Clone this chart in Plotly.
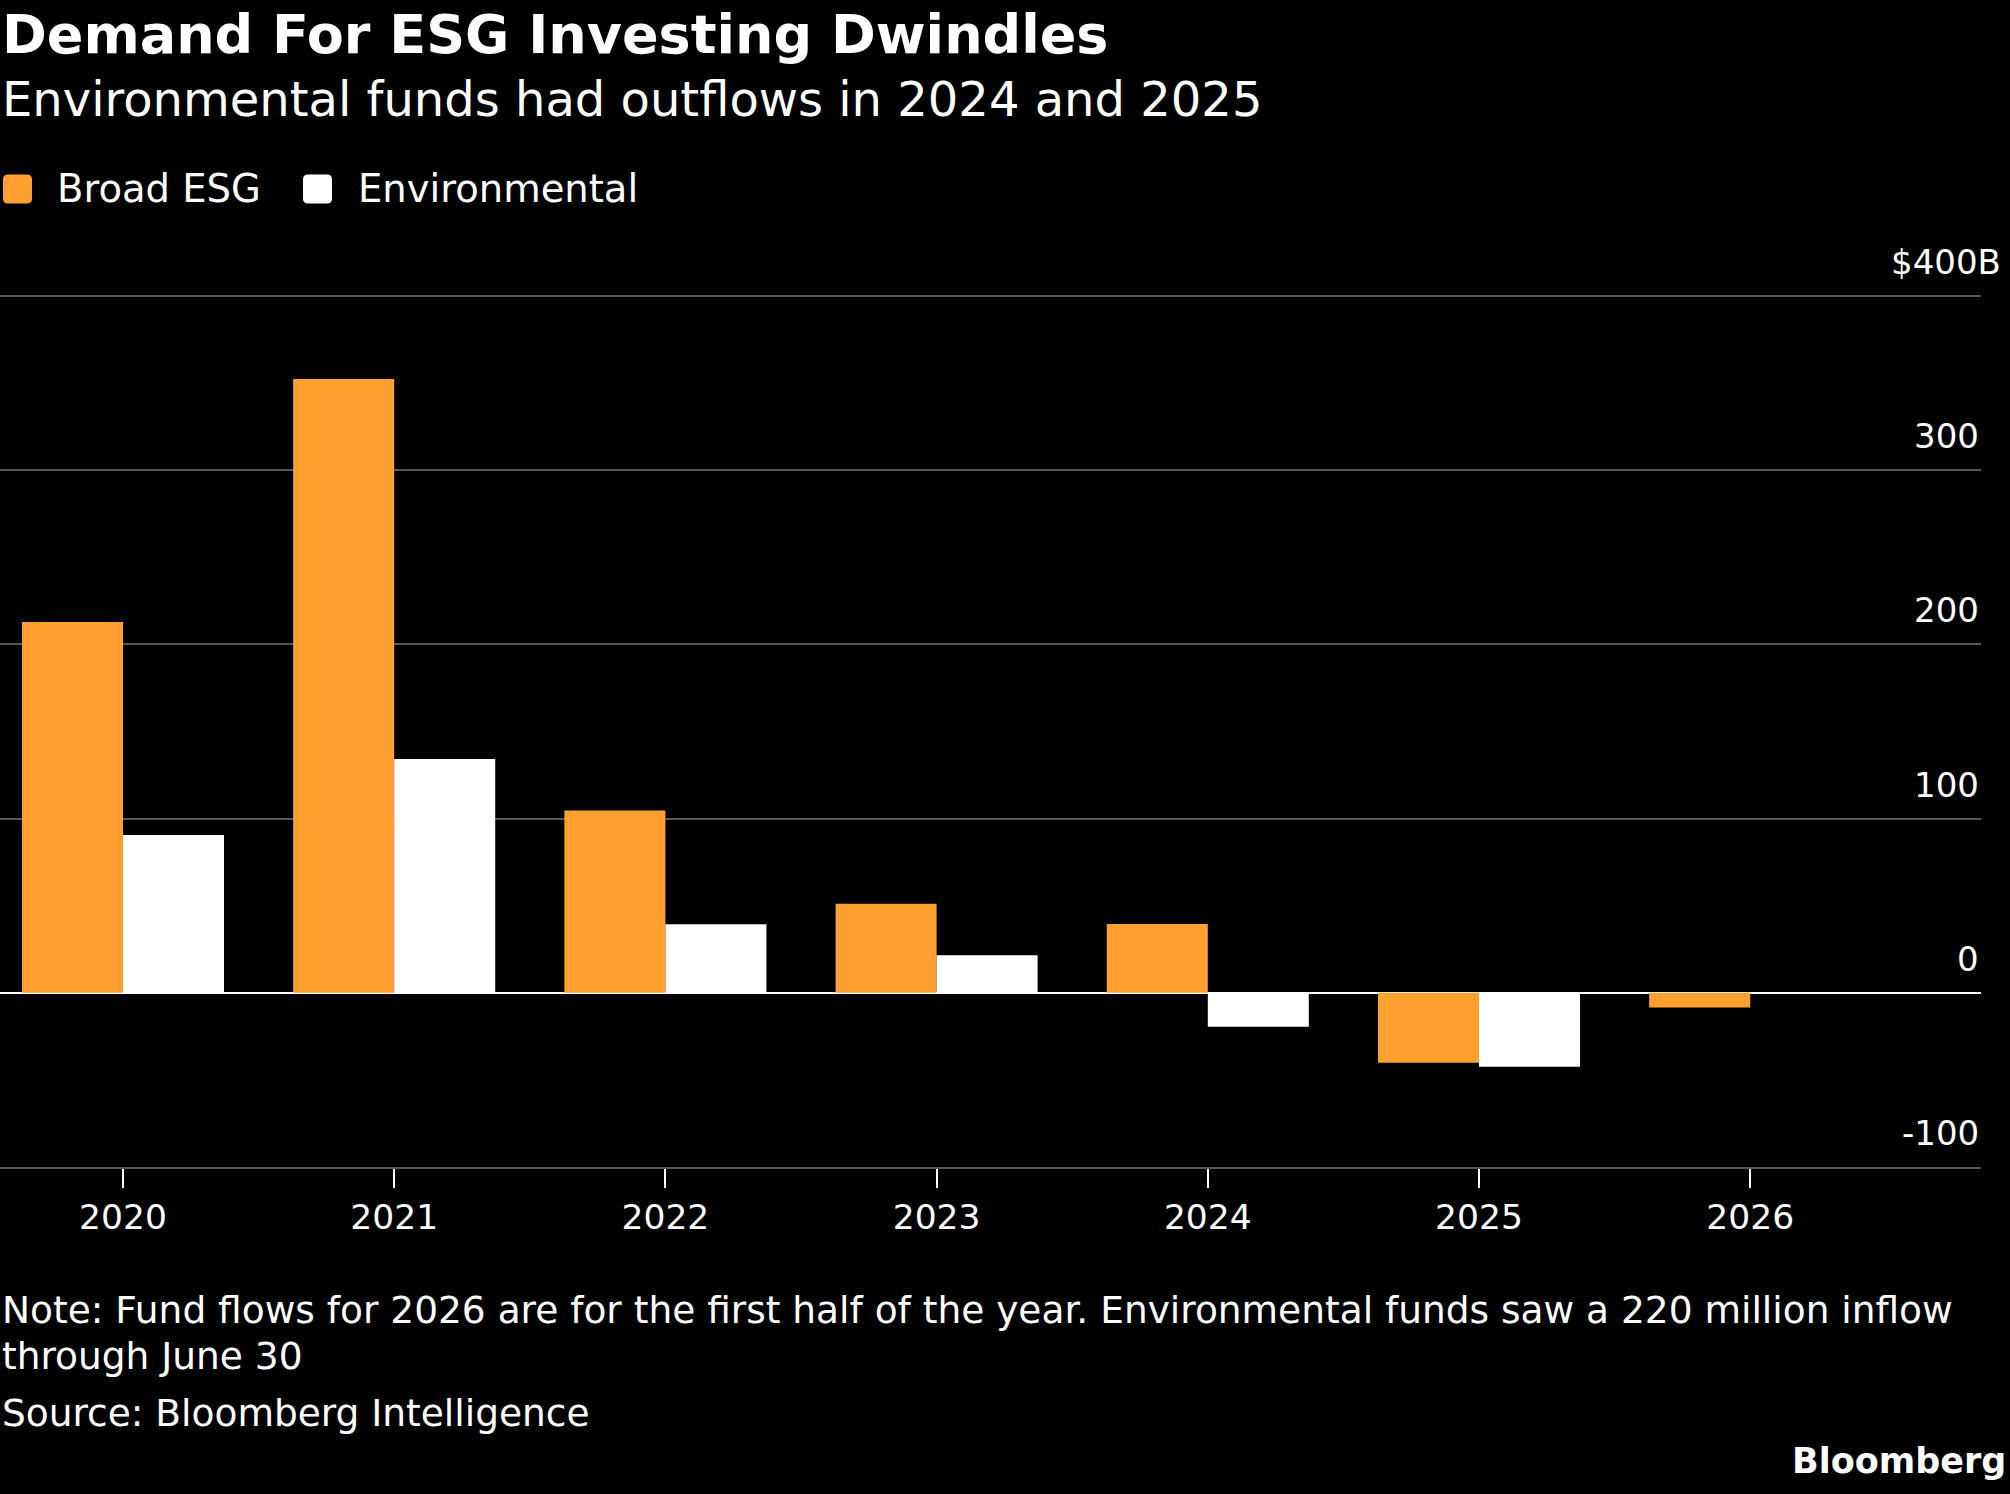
import plotly.graph_objects as go

# values in $B
years = ["2020", "2021", "2022", "2023", "2024", "2025", "2026"]
broad_esg = [212.7, 352.2, 104.6, 51.1, 39.5, -40.2, -8.4]
environmental = [90.5, 134.1, 39.3, 21.5, -19.5, -42.4, 0.22]
y_ticks = [-100, 0, 100, 200, 300, 400]
y_tick_text = ["-100", "0", "100", "200", "300", "$400B"]

W, H = 2010, 1494
PLOT_L, PLOT_R, PLOT_T, PLOT_B = 0, 1981, 294, 1167
ORANGE = "#ffa031"
GRID = "#575757"
FONT = "DejaVu Sans, Verdana, sans-serif"


def px(x):
    return (x - PLOT_L) / (PLOT_R - PLOT_L)


def py(y):
    return (PLOT_B - y) / (PLOT_B - PLOT_T)


fig = go.Figure()
fig.add_trace(go.Bar(x=years, y=broad_esg, name="Broad ESG",
                     marker=dict(color=ORANGE, line=dict(width=0))))
fig.add_trace(go.Bar(x=years, y=environmental, name="Environmental",
                     marker=dict(color="white", line=dict(width=0))))

ann = []
# title / subtitle
ann.append(dict(text="<b>Demand For ESG Investing Dwindles</b>", x=px(0), y=py(35),
                font=dict(family=FONT, size=54, color="white")))
ann.append(dict(text="Environmental funds had outflows in 2024 and 2025", x=px(0), y=py(99),
                font=dict(family=FONT, size=48, color="white")))
# legend
ann.append(dict(text="Broad ESG", x=px(55), y=py(188), font=dict(family=FONT, size=38.5, color="white")))
ann.append(dict(text="Environmental", x=px(356), y=py(188), font=dict(family=FONT, size=38.5, color="white")))

# y tick labels sit above the gridlines
for v, t in zip(y_ticks, y_tick_text):
    ann.append(dict(text=t, x=1, xref="paper", y=v, yref="y", xanchor="right", yanchor="middle",
                    yshift=34, xshift=22 if t.startswith("$") else 0,
                    font=dict(family=FONT, size=34, color="white")))

# footnotes
note = "Note: Fund flows for 2026 are for the first half of the year. Environmental funds saw a 220 million inflow"
ann.append(dict(text=note, x=px(0), y=py(1310), font=dict(family=FONT, size=37.5, color="white")))
ann.append(dict(text="through June 30", x=px(0), y=py(1356), font=dict(family=FONT, size=37.5, color="white")))
ann.append(dict(text="Source: Bloomberg Intelligence", x=px(0), y=py(1413), font=dict(family=FONT, size=37.5, color="white")))
ann.append(dict(text="<b>Bloomberg</b>", x=px(2008), y=py(1461), xanchor="right",
                font=dict(family=FONT, size=35, color="white")))

for a in ann:
    a.setdefault("xref", "paper")
    a.setdefault("yref", "paper")
    a.setdefault("xanchor", "left")
    a.setdefault("yanchor", "middle")
    a["showarrow"] = False


def swatch_paper(x0, yc, size, color):
    # rounded square legend swatch, pixel geometry converted into paper units
    sx = 1 / (PLOT_R - PLOT_L)
    sy = 1 / (PLOT_B - PLOT_T)
    r = 5
    X = lambda v: (v - PLOT_L) * sx
    Y = lambda v: (PLOT_B - v) * sy
    xa, xb = x0, x0 + size
    ya, yb = yc - size / 2, yc + size / 2
    path = (f"M{X(xa + r)},{Y(ya)} L{X(xb - r)},{Y(ya)} Q{X(xb)},{Y(ya)} {X(xb)},{Y(ya + r)} "
            f"L{X(xb)},{Y(yb - r)} Q{X(xb)},{Y(yb)} {X(xb - r)},{Y(yb)} L{X(xa + r)},{Y(yb)} "
            f"Q{X(xa)},{Y(yb)} {X(xa)},{Y(yb - r)} L{X(xa)},{Y(ya + r)} Q{X(xa)},{Y(ya)} {X(xa + r)},{Y(ya)} Z")
    return dict(type="path", path=path, xref="paper", yref="paper",
                fillcolor=color, line=dict(width=0), layer="above")


shapes = [swatch_paper(3, 189, 29, ORANGE), swatch_paper(303, 189, 29, "white")]

fig.update_layout(
    width=W, height=H,
    paper_bgcolor="black", plot_bgcolor="black",
    margin=dict(l=PLOT_L, r=W - PLOT_R, t=PLOT_T, b=H - PLOT_B),
    showlegend=False,
    barmode="group", bargap=0.255, bargroupgap=0,
    annotations=ann, shapes=shapes,
    font=dict(family=FONT, color="white"),
)
fig.update_xaxes(
    type="category", range=[-0.4535, 6.851],
    showgrid=False, zeroline=False,
    showline=True, linecolor=GRID, linewidth=2,
    ticks="outside", ticklen=19, tickwidth=2, tickcolor="white",
    tickfont=dict(family=FONT, size=34.5, color="white"),
)
fig.update_yaxes(
    range=[-100, 401], tickvals=y_ticks, showticklabels=False,
    showgrid=True, gridcolor=GRID, gridwidth=2,
    zeroline=True, zerolinecolor="white", zerolinewidth=2,
)

fig.write_html("out.html", config={"displayModeBar": False},
               post_script="document.body.style.margin='0';document.body.style.background='black';")
